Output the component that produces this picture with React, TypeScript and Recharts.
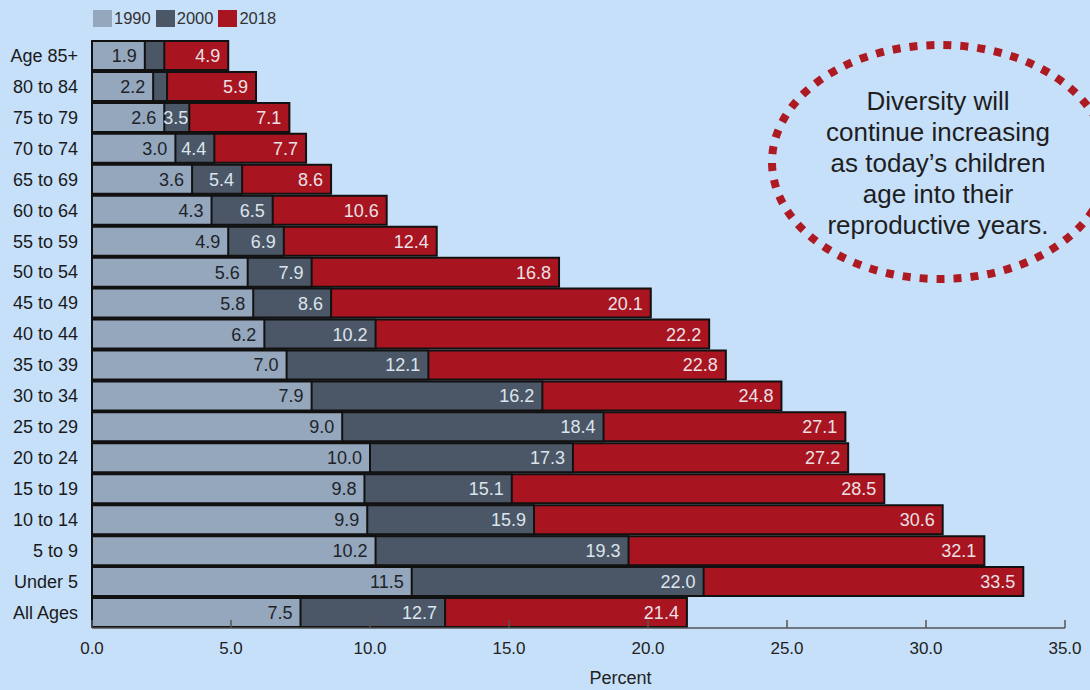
import { BarChart, Bar, XAxis, YAxis, LabelList, Label } from "recharts";

// Share of population by age group, three census years
const ageGroups = [
  "Age 85+", "80 to 84", "75 to 79", "70 to 74", "65 to 69", "60 to 64",
  "55 to 59", "50 to 54", "45 to 49", "40 to 44", "35 to 39", "30 to 34",
  "25 to 29", "20 to 24", "15 to 19", "10 to 14", "5 to 9", "Under 5", "All Ages",
];
const share1990 = [1.9, 2.2, 2.6, 3.0, 3.6, 4.3, 4.9, 5.6, 5.8, 6.2, 7.0, 7.9, 9.0, 10.0, 9.8, 9.9, 10.2, 11.5, 7.5];
const share2000 = [2.6, 2.7, 3.5, 4.4, 5.4, 6.5, 6.9, 7.9, 8.6, 10.2, 12.1, 16.2, 18.4, 17.3, 15.1, 15.9, 19.3, 22.0, 12.7];
const share2018 = [4.9, 5.9, 7.1, 7.7, 8.6, 10.6, 12.4, 16.8, 20.1, 22.2, 22.8, 24.8, 27.1, 27.2, 28.5, 30.6, 32.1, 33.5, 21.4];
const percentTicks = [0, 5, 10, 15, 20, 25, 30, 35];

const noteLines = [
  "Diversity will",
  "continue increasing",
  "as today\u2019s children",
  "age into their",
  "reproductive years.",
];

const legendItems = [
  { name: "1990", fill: "#94a7bd" },
  { name: "2000", fill: "#4b5766" },
  { name: "2018", fill: "#a8141f" },
];

const rows = ageGroups.map((age, i) => ({
  age,
  y1990: share1990[i],
  y2000: share2000[i],
  y2018: share2018[i],
}));

const FONT = "'Liberation Sans', Arial, sans-serif";
const PX_PER_UNIT = (1065 - 92) / 35;

// value at the right end of a bar; skipped when the visible slice is too thin,
// and nudged right so it never sits on the bar underneath
function valueLabel(color: string, under?: number[]) {
  return (props: any) => {
    const { x, y, width, height, value, index } = props;
    let right = x + width - 8;
    if (under) {
      if (value - under[index] < 0.8) return null;
      right = Math.max(right, x + under[index] * PX_PER_UNIT + 24);
    }
    return (
      <text
        x={right}
        y={y + height / 2}
        dy="0.36em"
        textAnchor="end"
        fill={color}
        fontSize={18}
        fontFamily={FONT}
      >
        {Number(value).toFixed(1)}
      </text>
    );
  };
}

function PercentTick({ x, y, payload }: any) {
  return (
    <g>
      <line x1={x} x2={x} y1={y - 8} y2={y} stroke="#555" strokeWidth={1.5} />
      <text x={x} y={y + 26} textAnchor="middle" fill="#222" fontSize={17} fontFamily={FONT}>
        {Number(payload.value).toFixed(1)}
      </text>
    </g>
  );
}

export default function App() {
  return (
    <div
      style={{
        position: "fixed",
        left: 0,
        top: 0,
        width: 1090,
        height: 690,
        background: "#c6e0fa",
        fontFamily: FONT,
      }}
    >
      <div
        style={{
          position: "absolute",
          left: 93,
          top: 9,
          display: "flex",
          alignItems: "center",
          fontSize: 16.5,
          color: "#333",
        }}
      >
        {legendItems.map((item) => (
          <div key={item.name} style={{ display: "flex", alignItems: "center", marginRight: 5 }}>
            <span style={{ width: 19, height: 17, background: item.fill, marginRight: 2 }} />
            <span>{item.name}</span>
          </div>
        ))}
      </div>

      <BarChart
        width={1090}
        height={690}
        data={rows}
        layout="vertical"
        barCategoryGap={1}
        margin={{ top: 40, right: 25, bottom: 32, left: 0 }}
      >
        <XAxis
          type="number"
          domain={[0, 35]}
          ticks={percentTicks}
          height={30}
          tickSize={0}
          tickMargin={0}
          tickLine={false}
          axisLine={{ stroke: "#555", strokeWidth: 1.5 }}
          tick={<PercentTick />}
        >
          <Label
            value="Percent"
            position="bottom"
            offset={13}
            dx={42}
            fill="#222"
            fontSize={18}
            fontFamily={FONT}
          />
        </XAxis>
        <YAxis yAxisId="y2018" type="category" dataKey="age" hide />
        <YAxis yAxisId="y2000" type="category" dataKey="age" hide />
        <YAxis
          yAxisId="y1990"
          type="category"
          dataKey="age"
          width={92}
          tickSize={0}
          tickMargin={14}
          tickLine={false}
          axisLine={{ stroke: "#111", strokeWidth: 2 }}
          tick={{ fill: "#1a1a1a", fontSize: 18, fontFamily: FONT }}
        />
        {/* bars overlap from zero: longest (2018) underneath, 1990 on top */}
        <Bar
          yAxisId="y2018"
          dataKey="y2018"
          fill="#a8141f"
          stroke="#111"
          strokeWidth={2}
          isAnimationActive={false}
        >
          <LabelList dataKey="y2018" content={valueLabel("#ebe0e6", share2000)} />
        </Bar>
        <Bar
          yAxisId="y2000"
          dataKey="y2000"
          fill="#4b5766"
          stroke="#111"
          strokeWidth={2}
          isAnimationActive={false}
        >
          <LabelList dataKey="y2000" content={valueLabel("#dce4ee", share1990)} />
        </Bar>
        <Bar
          yAxisId="y1990"
          dataKey="y1990"
          fill="#94a7bd"
          stroke="#111"
          strokeWidth={2}
          isAnimationActive={false}
        >
          <LabelList dataKey="y1990" content={valueLabel("#1f2329")} />
        </Bar>
      </BarChart>

      <svg
        width={1090}
        height={690}
        style={{ position: "absolute", left: 0, top: 0, pointerEvents: "none" }}
      >
        <ellipse
          cx={940}
          cy={162}
          rx={168}
          ry={117}
          fill="none"
          stroke="#ad1a22"
          strokeWidth={8}
          strokeDasharray="8 9"
        />
        {noteLines.map((line, i) => (
          <text
            key={line}
            x={938}
            y={110 + i * 31}
            textAnchor="middle"
            fill="#1e1e1e"
            fontSize={26}
            fontFamily={FONT}
          >
            {line}
          </text>
        ))}
      </svg>
    </div>
  );
}
